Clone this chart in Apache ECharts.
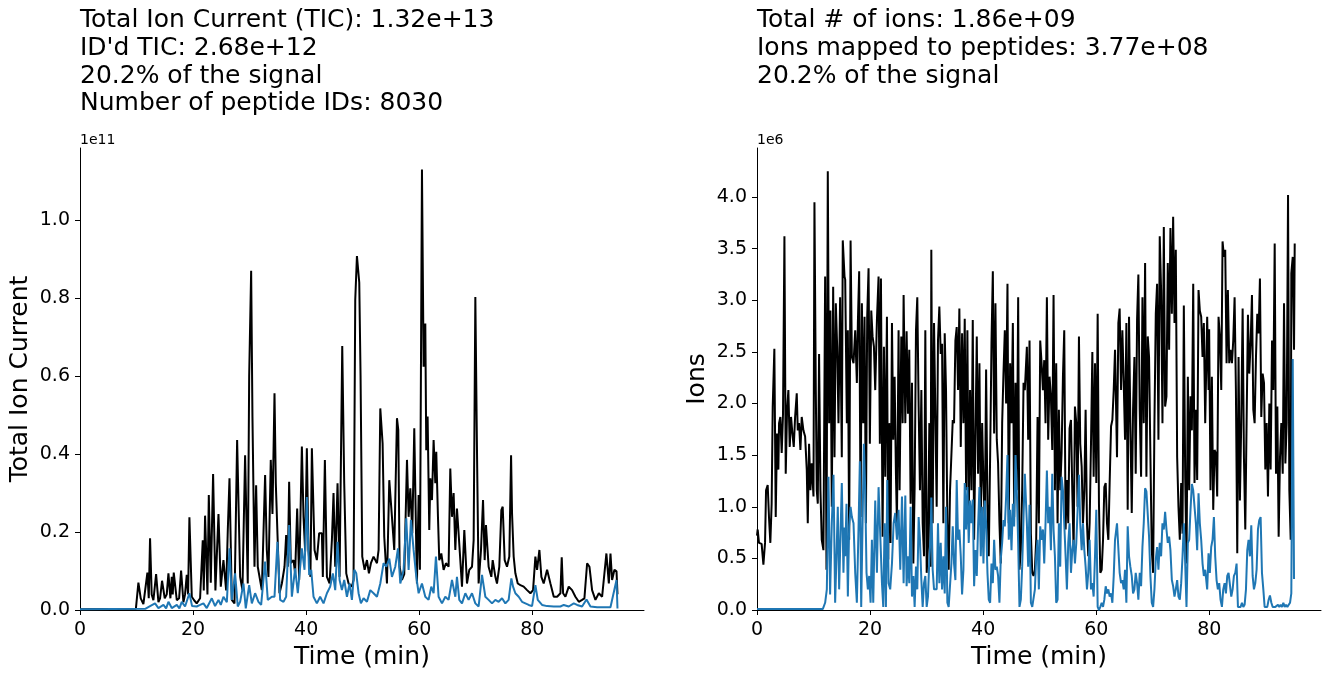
<!DOCTYPE html>
<html>
<head>
<meta charset="utf-8">
<title>TIC / ions</title>
<script src="https://cdn.jsdelivr.net/npm/echarts@6/dist/echarts.min.js"></script>
<style>
  html, body { margin: 0; padding: 0; background: #fff; }
  #main { width: 1330px; height: 678px; }
</style>
</head>
<body>
<div id="main"></div>
<script>
// time (min), value in units of 1e11 (left) / 1e6 (right)
var ticTotal = [
  [0,0.002],[9.88,0.003],[10.33,0.07],[10.74,0.03],[11.21,0.015],[11.56,0.01],[11.92,0.096],[12.16,0.03],[12.39,0.184],[12.68,0.04],
  [12.98,0.025],[13.46,0.092],[13.87,0.02],[14.16,0.03],[14.51,0.075],[14.99,0.03],[15.34,0.04],[15.64,0.094],[15.99,0.03],[16.23,0.085],
  [16.4,0.04],[16.58,0.096],[17.12,0.025],[17.53,0.03],[17.88,0.101],[18.29,0.02],[18.58,0.04],[18.88,0.09],[19.12,0.04],[19.35,0.238],
  [19.77,0.034],[20.18,0.025],[20.64,0.017],[21.24,0.03],[21.71,0.179],[21.89,0.05],[22.12,0.242],[22.54,0.04],[22.78,0.295],[23.13,0.07],
  [23.54,0.349],[23.95,0.05],[24.49,0.246],[24.9,0.06],[25.37,0.128],[25.85,0.05],[26.14,0.205],[26.44,0.338],[26.85,0.026],[27.32,0.017],
  [27.79,0.436],[28.32,0.085],[28.73,0.051],[29.2,0.397],[29.67,0.068],[29.92,0.6],[30.27,0.87],[30.5,0.496],[30.86,0.111],[31.15,0.32],
  [31.44,0.111],[32.16,0.051],[32.74,0.346],[33.04,0.154],[33.33,0.085],[33.74,0.385],[34.04,0.246],[34.4,0.556],[34.63,0.325],[34.92,0.197],
  [35.28,0.043],[35.7,0.068],[36.17,0.111],[36.46,0.192],[36.75,0.111],[36.99,0.329],[37.28,0.12],[37.76,0.128],[38.05,0.094],[38.41,0.26],
  [38.76,0.077],[39.24,0.419],[39.53,0.239],[39.82,0.15],[40.12,0.415],[40.41,0.154],[40.76,0.085],[41.01,0.415],[41.48,0.154],[41.89,0.128],
  [42.3,0.197],[42.78,0.197],[42.95,0.085],[43.31,0.385],[43.67,0.085],[44.14,0.068],[44.55,0.179],[44.84,0.3],[45.14,0.111],[45.55,0.325],
  [45.91,0.085],[46.38,0.677],[46.73,0.325],[47.09,0.094],[47.5,0.068],[48.09,0.06],[48.38,0.077],[48.68,0.795],[48.98,0.908],[49.39,0.84],
  [49.62,0.6],[49.92,0.137],[50.34,0.103],[50.75,0.128],[51.1,0.094],[51.45,0.12],[51.92,0.137],[52.52,0.12],[52.81,0.154],[53.11,0.517],
  [53.52,0.427],[53.81,0.188],[54.29,0.068],[54.7,0.333],[55.17,0.239],[55.58,0.154],[56.06,0.492],[56.29,0.462],[56.53,0.111],[56.94,0.077],
  [57.35,0.092],[57.83,0.385],[58.12,0.239],[58.42,0.312],[58.77,0.197],[59.12,0.466],[59.48,0.154],[59.59,0.068],[59.89,0.295],[60.12,0.103],
  [60.48,1.13],[60.77,0.624],[61.07,0.735],[61.24,0.41],[61.48,0.496],[61.77,0.205],[61.96,0.338],[62.25,0.282],[62.54,0.436],[62.84,0.325],
  [63.01,0.406],[63.31,0.239],[63.54,0.128],[63.9,0.145],[64.31,0.103],[64.72,0.12],[65.19,0.111],[65.49,0.363],[65.79,0.239],[66.08,0.3],
  [66.38,0.154],[66.67,0.26],[66.96,0.197],[67.56,0.06],[67.97,0.205],[68.44,0.068],[68.85,0.103],[69.33,0.111],[69.62,0.179],[69.92,0.803],
  [70.21,0.41],[70.5,0.068],[70.92,0.154],[71.28,0.282],[71.57,0.128],[71.8,0.218],[72.27,0.111],[72.75,0.085],[72.99,0.128],[73.46,0.085],
  [73.75,0.068],[74.16,0.111],[74.52,0.256],[74.76,0.265],[75.11,0.128],[75.52,0.111],[75.93,0.137],[76.24,0.397],[76.41,0.248],[76.7,0.137],
  [77.0,0.094],[77.42,0.068],[77.89,0.064],[78.47,0.06],[79.07,0.051],[79.66,0.043],[80.13,0.051],[80.54,0.137],[80.84,0.103],[81.25,0.154],
  [81.6,0.085],[82.01,0.068],[82.61,0.103],[83.2,0.068],[83.79,0.034],[84.38,0.034],[84.97,0.043],[85.2,0.135],[85.44,0.043],[85.85,0.034],
  [86.44,0.06],[87.03,0.051],[87.62,0.034],[88.22,0.021],[88.8,0.026],[89.21,0.03],[89.69,0.12],[90.1,0.111],[90.57,0.051],[91.16,0.026],
  [91.76,0.043],[92.34,0.034],[93.1,0.145],[93.53,0.068],[93.82,0.145],[94.11,0.077],[94.52,0.103],[94.89,0.099],[95.06,0.04]
];

var ticIdentified = [
  [0,0.002],[11.54,0.003],[12.39,0.01],[13.27,0.017],[13.87,0.005],[14.76,0.013],[15.23,0.004],[15.64,0.021],[16.23,0.005],[17.12,0.013],
  [17.58,0.004],[18.0,0.021],[18.58,0.009],[19.35,0.043],[19.82,0.01],[20.64,0.009],[21.24,0.013],[21.83,0.017],[22.42,0.005],[23.31,0.03],
  [23.89,0.01],[24.49,0.026],[24.9,0.013],[25.37,0.034],[25.97,0.02],[26.44,0.158],[26.85,0.026],[27.43,0.094],[27.9,0.009],[28.32,0.021],
  [28.91,0.068],[29.32,0.004],[29.92,0.064],[30.39,0.017],[30.97,0.043],[31.56,0.021],[32.04,0.013],[32.74,0.124],[33.21,0.026],[33.93,0.034],
  [34.4,0.034],[34.92,0.175],[35.4,0.026],[35.99,0.021],[36.46,0.034],[36.99,0.218],[37.47,0.034],[38.05,0.107],[38.52,0.043],[39.24,0.158],
  [39.71,0.103],[40.12,0.29],[40.53,0.09],[40.89,0.103],[41.3,0.034],[41.89,0.017],[42.47,0.034],[43.07,0.017],[43.67,0.043],[44.25,0.06],
  [44.72,0.094],[45.14,0.051],[45.55,0.175],[45.91,0.077],[46.32,0.051],[46.73,0.077],[47.21,0.034],[47.68,0.068],[48.09,0.026],[48.51,0.103],
  [48.86,0.094],[49.27,0.043],[49.68,0.017],[50.15,0.03],[50.75,0.021],[51.34,0.051],[51.92,0.043],[52.52,0.034],[53.11,0.068],[53.69,0.12],
  [54.17,0.111],[54.7,0.132],[55.17,0.085],[55.76,0.111],[56.24,0.158],[56.65,0.068],[57.23,0.103],[57.7,0.235],[58.12,0.103],[58.53,0.231],
  [59.0,0.154],[59.48,0.085],[59.89,0.043],[60.48,0.068],[61.07,0.034],[61.65,0.026],[62.13,0.06],[62.54,0.043],[62.95,0.137],[63.42,0.034],
  [64.02,0.017],[64.61,0.034],[65.19,0.026],[65.79,0.077],[66.38,0.034],[66.67,0.085],[67.08,0.026],[67.56,0.017],[68.15,0.043],[68.73,0.026],
  [69.33,0.043],[69.92,0.017],[70.5,0.009],[71.1,0.09],[71.69,0.034],[72.27,0.026],[72.87,0.017],[73.46,0.026],[74.04,0.021],[74.64,0.03],
  [75.23,0.017],[75.81,0.026],[76.29,0.081],[76.59,0.06],[77.0,0.043],[77.59,0.034],[78.18,0.021],[78.77,0.017],[79.36,0.013],[79.95,0.01],
  [80.54,0.064],[80.96,0.026],[81.72,0.013],[82.61,0.01],[83.79,0.009],[84.97,0.009],[85.56,0.013],[86.44,0.009],[87.33,0.017],[87.92,0.013],
  [88.8,0.009],[89.58,0.027],[90.28,0.009],[91.46,0.007],[92.64,0.007],[93.82,0.007],[94.89,0.077],[95.06,0.004]
];

var ionsTotal = [
  [0,0.72],[0.12,0.78],[0.35,0.65],[0.82,0.64],[1.13,0.44],[1.42,0.65],[1.6,1.16],[1.89,1.21],[2.12,0.9],[2.36,0.65],
  [2.59,1.03],[2.78,1.97],[3.07,2.53],[3.31,0.9],[3.54,1.71],[3.78,1.36],[3.9,1.81],[4.13,1.87],[4.37,1.52],[4.6,1.9],
  [4.85,3.62],[5.08,1.32],[5.32,1.94],[5.55,2.13],[5.79,1.58],[6.02,1.87],[6.26,1.71],[6.5,1.58],[6.74,1.87],[7.03,2.1],
  [7.21,1.74],[7.44,1.81],[7.68,1.55],[7.91,1.87],[8.21,1.74],[8.51,1.68],[8.8,1.36],[8.98,0.84],[9.21,1.61],[9.45,1.16],
  [9.68,1.42],[9.99,1.1],[10.16,3.95],[10.4,2.13],[10.57,1.16],[10.75,1.03],[10.98,2.48],[11.22,1.16],[11.45,0.68],[11.75,0.58],
  [12.05,3.23],[12.29,0.39],[12.52,4.25],[12.76,1.81],[12.99,2.9],[13.23,1.0],[13.47,3.13],[13.71,1.48],[13.94,2.97],[14.18,2.55],
  [14.41,1.81],[14.7,3.03],[15.0,1.48],[15.17,3.58],[15.48,3.23],[15.6,3.2],[15.89,1.81],[16.07,2.71],[16.3,0.68],[16.55,3.58],
  [16.78,2.45],[17.07,2.39],[17.37,2.71],[17.66,2.2],[17.84,2.78],[18.07,3.28],[18.32,0.9],[18.55,2.97],[18.79,1.81],[19.02,2.84],
  [19.26,0.84],[19.49,2.84],[19.73,3.31],[19.96,1.61],[20.21,2.9],[20.44,2.65],[20.68,2.55],[20.91,2.13],[21.21,2.81],[21.5,3.23],
  [21.73,1.61],[21.92,3.21],[22.21,0.71],[22.45,2.55],[22.68,1.29],[22.98,2.84],[23.21,0.49],[23.39,1.81],[23.62,0.65],[23.87,2.78],
  [24.1,1.65],[24.34,2.26],[24.57,1.32],[24.75,0.84],[25.04,2.71],[25.22,1.16],[25.52,2.65],[25.76,1.81],[25.93,3.05],[26.23,1.81],
  [26.46,2.7],[26.7,1.9],[26.93,2.52],[27.17,1.03],[27.41,2.2],[27.65,0.45],[27.88,1.19],[28.12,2.71],[28.35,3.03],[28.59,1.97],
  [28.82,1.16],[29.07,2.13],[29.3,0.84],[29.54,0.52],[29.77,2.71],[30.01,0.36],[30.24,0.61],[30.48,1.81],[30.71,0.42],[30.83,3.49],
  [31.07,0.84],[31.31,2.78],[31.78,1.0],[32.01,2.61],[32.25,2.94],[32.49,2.48],[32.73,2.58],[32.96,0.84],[33.2,2.68],[33.43,2.13],
  [33.67,0.84],[33.9,0.39],[34.14,1.16],[34.38,1.16],[34.62,1.84],[34.85,1.81],[35.09,2.61],[35.32,2.74],[35.56,2.13],[35.79,2.92],
  [36.04,1.58],[36.27,2.68],[36.51,1.81],[36.74,2.82],[36.98,1.16],[37.21,2.71],[37.45,0.84],[37.68,2.13],[37.93,1.16],[38.16,2.81],
  [38.4,0.68],[38.63,1.65],[38.87,2.65],[39.1,1.32],[39.34,2.39],[39.58,0.84],[39.82,1.81],[40.05,1.23],[40.29,0.84],[40.52,2.33],
  [40.76,1.0],[40.99,0.52],[41.23,1.48],[41.47,2.58],[41.71,3.28],[41.94,1.71],[42.17,2.97],[42.41,1.65],[42.64,1.42],[42.88,0.84],
  [43.11,0.45],[43.36,1.81],[43.59,2.29],[43.83,2.71],[44.06,2.0],[44.3,3.16],[44.53,0.84],[44.77,2.39],[45.01,1.81],[45.25,2.78],
  [45.48,0.9],[45.72,2.2],[45.95,1.16],[46.19,3.03],[46.42,0.39],[46.66,0.58],[46.9,1.16],[47.14,2.2],[47.37,2.13],[47.73,2.55],
  [47.96,1.65],[48.2,2.61],[48.44,0.74],[48.68,0.36],[48.91,0.33],[49.15,0.39],[49.38,0.68],[49.62,1.87],[49.85,0.84],[50.09,2.61],
  [50.33,2.39],[50.57,2.13],[50.8,2.42],[51.03,1.81],[51.27,3.03],[51.5,1.65],[51.74,2.26],[51.98,2.07],[52.22,1.55],[52.45,3.05],
  [52.69,1.16],[52.92,2.39],[53.16,0.84],[53.39,1.94],[53.63,1.16],[53.87,1.52],[54.11,2.26],[54.34,2.71],[54.58,0.78],[54.81,1.26],
  [55.05,0.84],[55.28,1.76],[55.53,1.84],[55.76,1.16],[56.0,0.58],[56.23,1.97],[56.47,1.81],[56.7,1.0],[56.94,2.65],[57.17,1.61],
  [57.42,1.39],[57.65,0.84],[57.89,1.16],[58.12,1.94],[58.36,0.84],[58.59,0.52],[58.83,0.84],[59.07,1.61],[59.31,2.5],[59.54,1.29],
  [59.78,2.39],[60.01,1.23],[60.25,2.87],[60.48,1.03],[60.72,0.36],[60.96,0.39],[61.2,0.68],[61.43,1.19],[61.67,1.23],[61.9,0.84],
  [62.14,0.68],[62.37,1.23],[62.62,1.78],[62.85,1.84],[63.09,2.13],[63.32,2.52],[63.67,1.48],[63.91,2.78],[64.14,2.92],[64.39,2.13],
  [64.62,2.71],[64.86,2.2],[65.09,1.65],[65.33,2.78],[65.56,0.97],[65.8,2.84],[66.03,1.81],[66.28,0.94],[66.51,1.94],[66.75,2.45],
  [66.98,1.32],[67.22,2.81],[67.45,3.25],[67.69,1.94],[67.93,1.29],[68.17,3.03],[68.4,1.81],[68.64,3.36],[68.87,1.29],[69.11,2.65],
  [69.34,2.45],[69.58,1.48],[69.82,0.58],[70.06,0.36],[70.29,1.81],[70.53,2.87],[70.76,3.16],[71.0,1.65],[71.23,3.62],[71.47,3.1],
  [71.71,1.81],[71.95,3.71],[72.18,1.97],[72.42,2.07],[72.65,3.36],[72.89,2.52],[73.12,3.7],[73.37,2.87],[73.6,3.81],[73.84,2.78],
  [74.07,3.49],[74.31,1.48],[74.54,1.0],[74.78,0.68],[75.02,1.23],[75.26,0.74],[75.49,2.95],[75.73,1.29],[75.96,0.45],[76.2,2.26],
  [76.43,1.16],[76.67,2.07],[76.91,1.74],[77.15,3.16],[77.38,1.23],[77.62,1.94],[77.85,1.26],[78.09,3.1],[78.32,2.9],[78.56,2.84],
  [78.8,2.45],[79.03,2.78],[79.27,1.81],[79.62,2.84],[79.86,2.13],[79.97,2.72],[80.21,1.16],[80.45,2.26],[80.69,0.97],[80.92,1.55],
  [81.16,1.52],[81.39,1.1],[81.63,2.84],[81.86,2.65],[82.11,2.13],[82.34,3.57],[82.58,3.42],[82.81,3.49],[83.05,2.39],[83.28,3.1],
  [83.52,2.39],[83.75,2.52],[84.0,2.39],[84.23,2.61],[84.47,3.03],[84.7,2.13],[84.94,0.55],[85.17,2.45],[85.41,1.06],[85.64,1.81],
  [85.89,2.92],[86.12,1.48],[86.36,0.78],[86.59,1.81],[86.83,2.86],[87.06,2.29],[87.3,2.58],[87.54,3.05],[87.78,1.94],[88.01,1.81],
  [88.25,2.45],[88.48,2.87],[88.72,2.68],[88.95,3.21],[89.19,1.87],[89.43,2.29],[89.67,2.2],[89.9,1.36],[90.14,1.81],[90.37,1.1],
  [90.61,2.0],[90.84,1.36],[91.09,2.61],[91.32,2.13],[91.56,3.55],[91.79,1.32],[92.03,1.97],[92.26,0.71],[92.5,1.48],[92.73,1.81],
  [92.98,1.32],[93.21,2.97],[93.45,1.42],[93.68,1.81],[93.92,4.02],[94.15,1.16],[94.39,0.68],[94.5,3.26],[94.75,3.42],[94.98,2.52],
  [95.1,3.55]
];

var ionsMapped = [
  [0,0.01],[11.65,0.01],[12.05,0.07],[12.35,0.2],[12.64,1.29],[12.93,0.15],[13.23,0.84],[13.53,1.31],[13.82,0.07],[14.06,0.52],
  [14.29,1.0],[14.53,0.2],[14.76,0.71],[15.0,1.23],[15.29,0.36],[15.48,0.8],[15.6,0.52],[15.83,1.03],[16.07,0.13],[16.3,0.81],
  [16.55,1.0],[16.78,0.9],[17.07,0.84],[17.37,0.36],[17.66,0.07],[17.95,0.78],[18.19,1.44],[18.43,0.03],[18.67,0.84],[18.9,1.61],
  [19.14,1.16],[19.37,0.36],[19.61,0.2],[19.84,0.33],[20.09,0.07],[20.32,0.68],[20.56,0.07],[20.91,1.06],[21.21,0.36],[21.5,1.19],
  [21.79,0.74],[22.1,0.26],[22.33,0.03],[22.57,0.84],[22.8,0.03],[23.04,1.26],[23.27,0.26],[23.56,0.2],[23.87,0.45],[24.16,0.84],
  [24.45,0.94],[24.75,0.68],[25.04,0.97],[25.34,0.39],[25.64,1.1],[25.93,0.26],[26.23,1.11],[26.46,0.23],[26.7,0.52],[26.93,0.26],
  [27.17,1.0],[27.41,0.13],[27.65,0.33],[27.88,0.03],[28.12,0.42],[28.35,0.2],[28.59,0.9],[28.82,0.68],[29.07,0.29],[29.3,0.03],
  [29.54,0.26],[29.77,0.33],[30.01,0.03],[30.24,0.13],[30.48,0.49],[30.71,0.71],[30.83,1.09],[31.07,0.39],[31.31,0.2],[31.78,0.2],
  [32.01,0.84],[32.25,0.26],[32.49,0.65],[32.73,0.2],[32.96,0.52],[33.2,0.16],[33.43,1.0],[33.67,0.07],[33.9,0.03],[34.14,0.03],
  [34.38,0.45],[34.62,0.81],[34.85,0.45],[35.09,0.29],[35.32,1.26],[35.56,0.68],[35.79,0.78],[36.04,0.52],[36.27,0.15],[36.51,0.39],
  [36.74,1.23],[36.98,0.78],[37.21,1.19],[37.45,0.65],[37.68,1.06],[37.93,0.84],[38.16,1.07],[38.4,0.23],[38.63,0.58],[38.87,0.33],
  [39.1,0.81],[39.34,1.19],[39.58,0.52],[39.82,1.0],[40.05,0.45],[40.29,1.06],[40.52,0.84],[40.76,0.36],[40.99,0.1],[41.23,0.07],
  [41.47,0.45],[41.71,0.26],[41.94,0.68],[42.17,0.39],[42.41,0.42],[42.64,0.33],[42.88,0.07],[43.11,0.49],[43.36,0.65],[43.59,0.87],
  [43.83,0.81],[44.06,1.1],[44.3,1.5],[44.53,0.68],[44.77,0.97],[45.01,0.58],[45.25,1.03],[45.48,0.81],[45.72,1.5],[45.95,1.16],
  [46.19,0.65],[46.42,0.03],[46.66,0.1],[46.9,0.42],[47.14,0.9],[47.37,1.32],[47.73,0.84],[47.96,0.42],[48.2,1.02],[48.44,0.07],
  [48.68,0.03],[48.91,0.03],[49.15,0.2],[49.38,0.52],[49.62,0.68],[49.85,0.2],[50.09,0.81],[50.33,0.68],[50.57,0.78],[50.8,0.45],
  [51.03,0.84],[51.27,1.35],[51.5,0.84],[51.74,1.0],[51.98,0.58],[52.22,1.32],[52.45,0.78],[52.69,0.52],[52.92,0.07],[53.16,0.1],
  [53.39,0.84],[53.63,0.42],[53.87,1.29],[54.11,1.16],[54.34,0.84],[54.58,0.52],[54.81,0.2],[55.05,0.65],[55.28,0.84],[55.53,0.36],
  [55.76,0.58],[56.0,0.68],[56.23,0.45],[56.47,0.65],[56.7,0.97],[56.94,1.31],[57.17,0.84],[57.42,0.58],[57.65,0.84],[57.89,0.58],
  [58.12,0.42],[58.36,0.2],[58.59,0.36],[58.83,0.68],[59.07,0.2],[59.31,0.26],[59.54,0.13],[59.78,0.52],[60.01,0.97],[60.25,0.03],
  [60.48,0.0],[60.72,0.03],[60.96,0.07],[61.2,0.03],[61.43,0.1],[61.67,0.23],[61.9,0.16],[62.14,0.2],[62.37,0.13],[62.62,0.16],
  [62.85,0.07],[63.09,0.33],[63.32,0.68],[63.67,0.84],[63.91,0.85],[64.14,0.36],[64.39,0.26],[64.62,0.29],[64.86,0.2],[65.09,0.39],
  [65.33,0.07],[65.56,0.81],[65.8,0.52],[66.03,0.42],[66.28,0.33],[66.51,0.16],[66.75,0.2],[66.98,0.36],[67.22,0.26],[67.45,0.1],
  [67.69,0.36],[67.93,0.23],[68.17,0.61],[68.4,0.84],[68.64,1.18],[68.87,1.15],[69.11,1.16],[69.34,0.71],[69.58,0.33],[69.82,0.07],
  [70.06,0.03],[70.29,0.2],[70.53,0.49],[70.76,0.61],[71.0,0.39],[71.23,0.65],[71.47,0.52],[71.71,0.84],[71.95,0.78],[72.18,0.95],
  [72.42,0.78],[72.65,0.65],[72.89,0.71],[73.12,0.58],[73.37,0.29],[73.6,0.23],[73.84,0.13],[74.07,0.2],[74.31,0.29],[74.54,0.13],
  [74.78,0.1],[75.02,0.26],[75.26,0.52],[75.49,0.84],[75.73,0.45],[75.96,0.03],[76.2,0.65],[76.43,0.68],[76.67,0.97],[76.91,1.22],
  [77.15,1.16],[77.38,1.0],[77.62,0.84],[77.85,0.58],[78.09,1.13],[78.32,0.84],[78.56,0.68],[78.8,0.45],[79.03,0.33],[79.27,0.39],
  [79.62,0.2],[79.86,0.55],[80.09,0.36],[80.33,0.61],[80.57,0.68],[80.81,0.9],[81.04,0.52],[81.28,0.29],[81.51,0.2],[81.75,0.26],
  [81.98,0.1],[82.23,0.03],[82.46,0.2],[82.7,0.26],[82.93,0.16],[83.17,0.33],[83.4,0.36],[83.64,0.37],[83.88,0.13],[84.12,0.2],
  [84.35,0.33],[84.59,0.36],[84.82,0.45],[85.06,0.03],[85.29,0.03],[85.53,0.03],[85.77,0.07],[86.01,0.03],[86.24,0.05],[86.48,0.2],
  [86.71,0.58],[86.94,0.68],[87.18,0.52],[87.42,0.82],[87.66,0.33],[87.89,0.2],[88.13,0.26],[88.36,0.39],[88.6,0.78],[88.83,0.87],
  [89.07,0.9],[89.31,0.36],[89.55,0.2],[89.78,0.03],[90.02,0.03],[90.25,0.03],[90.49,0.1],[90.72,0.14],[90.97,0.07],[91.2,0.03],
  [91.44,0.02],[91.67,0.03],[91.91,0.02],[92.14,0.05],[92.38,0.03],[92.61,0.05],[92.86,0.03],[93.09,0.07],[93.33,0.03],[93.56,0.05],
  [93.8,0.03],[94.03,0.02],[94.27,0.07],[94.5,0.16],[94.75,2.43],[94.98,0.3],[95.1,0.3]
];

var timeTicks = [0, 20, 40, 60, 80];
var ticTicks = [0, 0.2, 0.4, 0.6, 0.8, 1.0];
var ionTicks = [0, 0.5, 1.0, 1.5, 2.0, 2.5, 3.0, 3.5, 4.0];

var leftTitle = ['Total Ion Current (TIC): 1.32e+13', "ID'd TIC: 2.68e+12", '20.2% of the signal', 'Number of peptide IDs: 8030'];
var rightTitle = ['Total # of ions: 1.86e+09', 'Ions mapped to peptides: 3.77e+08', '20.2% of the signal'];

var FONT = 'DejaVu Sans';

function xAxisFor(idx) {
  return {
    type: 'value', gridIndex: idx, min: 0, max: 99.75,
    name: 'Time (min)', nameLocation: 'middle', nameGap: 33,
    nameTextStyle: { fontFamily: FONT, fontSize: 25, color: '#000' },
    axisLine: { show: true, lineStyle: { color: '#000', width: 1 } },
    axisTick: { show: true, length: 5, customValues: timeTicks, lineStyle: { color: '#000', width: 1 } },
    axisLabel: { customValues: timeTicks, margin: 11, fontFamily: FONT, fontSize: 19, color: '#000' },
    splitLine: { show: false }
  };
}

function yAxisFor(idx, name, max, ticks) {
  return {
    type: 'value', gridIndex: idx, min: 0, max: max,
    name: name, nameLocation: 'middle', nameGap: 47,
    nameTextStyle: { fontFamily: FONT, fontSize: 25, color: '#000' },
    axisLine: { show: true, lineStyle: { color: '#000', width: 1 } },
    axisTick: { show: true, length: 5, customValues: ticks, lineStyle: { color: '#000', width: 1 } },
    axisLabel: {
      customValues: ticks, margin: 10, fontFamily: FONT, fontSize: 19, color: '#000',
      formatter: function (v) { return v.toFixed(1); }
    },
    splitLine: { show: false }
  };
}

function lineSeries(idx, data, color) {
  return {
    type: 'line', xAxisIndex: idx, yAxisIndex: idx, data: data,
    showSymbol: false, symbol: 'none', smooth: false,
    lineStyle: { color: color, width: 2 }, itemStyle: { color: color }
  };
}

var myChart = echarts.init(document.getElementById('main'), null, { renderer: 'canvas' });

var titleStyle = { fontFamily: FONT, fontSize: 25, fontWeight: 'normal', color: '#000', lineHeight: 27.7 };
var smallStyle = { fontFamily: FONT, fontSize: 14, fontWeight: 'normal', color: '#000' };

var option = {
  animation: false,
  backgroundColor: '#fff',
  title: [
    { text: leftTitle.join('\n'), left: 80, top: 7, padding: 0, textStyle: titleStyle },
    { text: rightTitle.join('\n'), left: 757, top: 7, padding: 0, textStyle: titleStyle },
    { text: '1e11', left: 80, top: 133, padding: 0, textStyle: smallStyle },
    { text: '1e6', left: 757, top: 133, padding: 0, textStyle: smallStyle }
  ],
  grid: [
    { left: 80, top: 148, width: 564, height: 462 },
    { left: 757, top: 148, width: 564, height: 462 }
  ],
  xAxis: [xAxisFor(0), xAxisFor(1)],
  yAxis: [
    yAxisFor(0, 'Total Ion Current', 1.185, ticTicks),
    yAxisFor(1, 'Ions', 4.475, ionTicks)
  ],
  series: [
    lineSeries(0, ticTotal, '#000000'),
    lineSeries(0, ticIdentified, '#1f77b4'),
    lineSeries(1, ionsTotal, '#000000'),
    lineSeries(1, ionsMapped, '#1f77b4')
  ]
};

myChart.setOption(option);
window.addEventListener('resize', function () {
  myChart.resize();
});
</script>
</body>
</html>
